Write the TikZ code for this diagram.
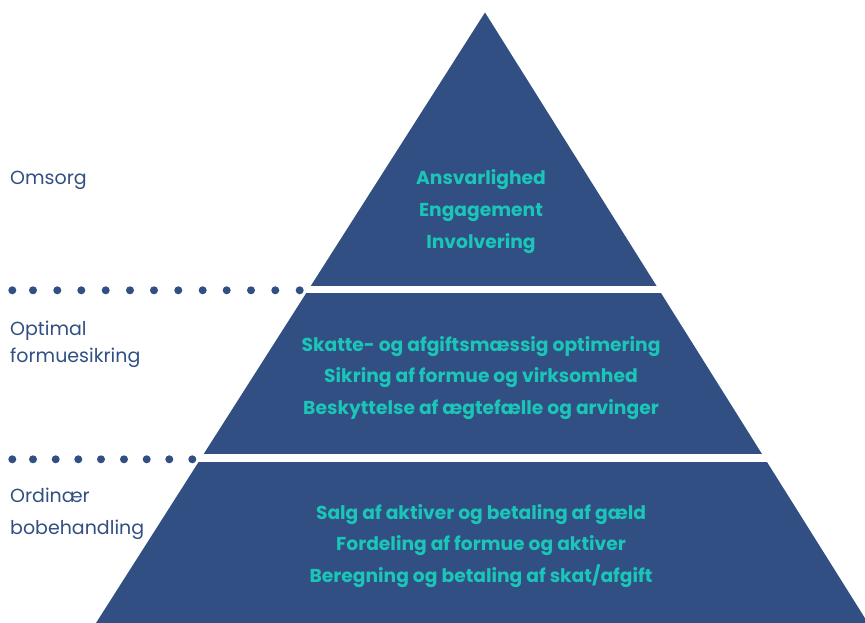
\documentclass[tikz,border=0pt]{standalone}
\usepackage{fontspec}
\setmainfont{Poppins}
\definecolor{pyrblue}{HTML}{314F82}
\definecolor{pyrteal}{HTML}{1BC5B7}
\begin{document}
\begin{tikzpicture}[x=1pt,y=-1pt,
  tiertext/.style={text=pyrteal,font=\fontsize{18.7}{18.7}\selectfont\bfseries,anchor=base,inner sep=0pt},
  sidelabel/.style={text=pyrblue,font=\fontsize{19}{19}\selectfont,anchor=base west,inner sep=0pt},
  dot/.style={fill=pyrblue,draw=none}]
\useasboundingbox (0,0) rectangle (865,623);
\begin{scope}
  \clip (0,0) rectangle (865,623);
  \fill[pyrblue] (485,12.5) -- (868,623) -- (96,623) -- cycle;
  \fill[white] (0,285.7) rectangle (865,293.3);
  \fill[white] (0,454.3) rectangle (865,462.3);
\end{scope}
% dotted separators
\foreach \x in {12.3,33,57.3,81.3,105.7,130,154,178.3,202.7,226.7,251,275.3,299.7}
  \fill[dot] (\x,290.3) circle (4);
\foreach \x in {12.3,33,55.7,78.3,101,124,146.7,169.3,192.3}
  \fill[dot] (\x,459.3) circle (4);
% tier texts
\node[tiertext] (t1) at (481,184) {Ansvarlighed};
\node[tiertext] (t2) at (481,216) {Engagement};
\node[tiertext] (t3) at (481,248) {Involvering};
\node[tiertext] (m1) at (481,351) {Skatte- og afgiftsmæssig optimering};
\node[tiertext] (m2) at (481,382.5) {Sikring af formue og virksomhed};
\node[tiertext] (m3) at (481,414) {Beskyttelse af ægtefælle og arvinger};
\node[tiertext] (b1) at (481,519) {Salg af aktiver og betaling af gæld};
\node[tiertext] (b2) at (481,550.5) {Fordeling af formue og aktiver};
\node[tiertext] (b3) at (481,582) {Beregning og betaling af skat/afgift};
% side labels
\node[sidelabel] (l1) at (10,184.3) {Omsorg};
\node[sidelabel] (l2a) at (10,335.7) {Optimal};
\node[sidelabel] (l2b) at (10,362) {formuesikring};
\node[sidelabel] (l3a) at (10,502.7) {Ordinær};
\node[sidelabel] (l3b) at (10,534) {bobehandling};
\end{tikzpicture}
\end{document}
